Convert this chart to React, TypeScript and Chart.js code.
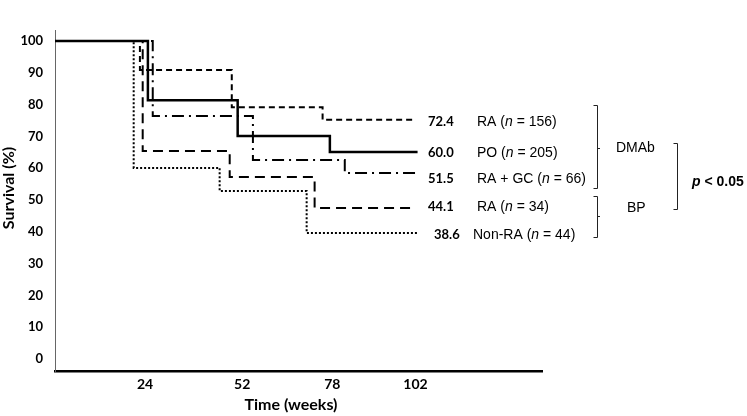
import React, { useEffect, useRef } from "react";
import { Chart, registerables } from "chart.js";

Chart.register(...registerables);

// ---- data ----
const xTickWeeks = [24, 52, 78, 102];
const yTickValues = [0, 10, 20, 30, 40, 50, 60, 70, 80, 90, 100];

const raDmabWeeks = [-2, 22.5, 49.0, 75.2, 101.8];
const raDmabSurv = [100, 90.9, 79.2, 75.2, 75.2];

const poWeeks = [-2, 24.8, 50.7, 77.3, 102.6];
const poSurv = [100, 81.4, 70.1, 65.1, 65.1];

const raGcWeeks = [-2, 26.2, 55.1, 81.6, 102.6];
const raGcSurv = [100, 76.4, 62.6, 58.5, 58.5];

const raBpWeeks = [-2, 23.3, 48.4, 72.9, 101.0];
const raBpSurv = [100, 65.4, 57.2, 47.5, 47.5];

const nonRaWeeks = [-2, 20.7, 45.5, 70.6, 102.6];
const nonRaSurv = [100, 60.1, 52.8, 39.6, 39.6];

const endValueLabels = ["72.4", "60.0", "51.5", "44.1", "38.6"];
const groupNames = ["RA", "PO", "RA + GC", "RA", "Non-RA"];
const groupN = ["156", "205", "66", "34", "44"];
const bracketNames = ["DMAb", "BP"];
const pText = "< 0.05";

const toPoints = (xs: number[], ys: number[]) => xs.map((x, i) => ({ x, y: ys[i] }));

const annotationPlugin = {
  id: "annot",
  afterDraw(chart: any) {
    const ctx = chart.ctx as CanvasRenderingContext2D;
    ctx.save();
    ctx.fillStyle = "#000";
    ctx.textBaseline = "middle";

    // axis titles
    ctx.font = 'bold 16px Lato';
    ctx.textAlign = "center";
    ctx.fillText("Time (weeks)", 291, 405);
    ctx.save();
    ctx.translate(9, 188);
    ctx.rotate(-Math.PI / 2);
    ctx.fillText("Survival (%)", 0, 0);
    ctx.restore();

    // end values
    ctx.textAlign = "left";
    ctx.font = 'bold 13px Lato';
    const numX = [428, 428, 428, 428, 434];
    const rowY = [122, 153, 179, 207, 235];
    endValueLabels.forEach((t, i) => ctx.fillText(t, numX[i], rowY[i]));

    // group names with italic n
    const nameX = [477, 477, 477, 477, 473];
    const reg = '14px "Liberation Sans"';
    const ital = 'italic 14px "Liberation Sans"';
    groupNames.forEach((name, i) => {
      const parts: [string, string][] = [
        [name + " (", reg],
        ["n", ital],
        [" = " + groupN[i] + ")", reg],
      ];
      let cx = nameX[i];
      for (const [t, f] of parts) {
        ctx.font = f;
        ctx.fillText(t, cx, rowY[i]);
        cx += ctx.measureText(t).width;
      }
    });

    // brackets
    ctx.strokeStyle = "#222";
    ctx.lineWidth = 1;
    const bracket = (x: number, y1: number, y2: number, nubY: number | null) => {
      ctx.beginPath();
      ctx.moveTo(x - 3.5, y1 + 0.5);
      ctx.lineTo(x + 0.5, y1 + 0.5);
      ctx.lineTo(x + 0.5, y2 + 0.5);
      ctx.lineTo(x - 3.5, y2 + 0.5);
      if (nubY !== null) {
        ctx.moveTo(x + 0.5, nubY + 0.5);
        ctx.lineTo(x + 3, nubY + 0.5);
      }
      ctx.stroke();
    };
    bracket(597, 105, 188, 148);
    bracket(597, 196, 237, 216);
    bracket(677, 143, 209, null);

    ctx.font = reg;
    ctx.fillText(bracketNames[0], 616, 148);
    ctx.fillText(bracketNames[1], 627, 208);

    ctx.font = 'bold italic 14px "Liberation Sans"';
    ctx.fillText("p", 692, 182);
    const pw = ctx.measureText("p ").width;
    ctx.font = 'bold 14px "Liberation Sans"';
    ctx.fillText(pText, 692 + pw, 182);

    ctx.restore();
  },
};

export default function App() {
  const canvasRef = useRef<HTMLCanvasElement | null>(null);

  useEffect(() => {
    if (!canvasRef.current) return;
    const common = {
      borderColor: "#000",
      borderWidth: 2,
      pointRadius: 0,
      stepped: "before" as const,
      fill: false,
      borderCapStyle: "butt" as const,
    };
    const chart = new Chart(canvasRef.current, {
      type: "line",
      data: {
        datasets: [
          { ...common, label: "RA DMAb", data: toPoints(raDmabWeeks, raDmabSurv), borderDash: [6, 4] },
          { ...common, label: "PO", data: toPoints(poWeeks, poSurv), borderWidth: 2.5 },
          { ...common, label: "RA + GC", data: toPoints(raGcWeeks, raGcSurv), borderDash: [12, 5, 2, 5] },
          { ...common, label: "RA BP", data: toPoints(raBpWeeks, raBpSurv), borderDash: [10, 6] },
          { ...common, label: "Non-RA", data: toPoints(nonRaWeeks, nonRaSurv), borderDash: [2, 2] },
        ],
      },
      options: {
        animation: false,
        responsive: false,
        maintainAspectRatio: false,
        layout: { padding: { left: 0, top: 30, right: 205, bottom: 0 } },
        plugins: { legend: { display: false }, tooltip: { enabled: false } },
        scales: {
          x: {
            type: "linear",
            min: -2,
            max: 138.5,
            grid: { display: false, drawTicks: false },
            border: { display: true, color: "#000", width: 2.5 },
            afterBuildTicks: (scale: any) => {
              scale.ticks = xTickWeeks.map((v) => ({ value: v }));
            },
            afterFit: (scale: any) => {
              scale.height = 45;
            },
            ticks: {
              autoSkip: false,
              maxRotation: 0,
              padding: 5,
              color: "#000",
              font: { family: "Lato", size: 14, weight: "bold" },
            },
          },
          y: {
            type: "linear",
            min: -3.77,
            max: 103.46,
            grid: { display: false, drawTicks: false },
            border: { display: true, color: "#666", width: 1 },
            afterBuildTicks: (scale: any) => {
              scale.ticks = yTickValues.map((v) => ({ value: v }));
            },
            afterFit: (scale: any) => {
              scale.width = 55;
            },
            ticks: {
              autoSkip: false,
              padding: 12,
              color: "#000",
              font: { family: "Lato", size: 13, weight: "bold" },
            },
          },
        },
      },
      plugins: [annotationPlugin],
    });
    return () => chart.destroy();
  }, []);

  return (
    <div style={{ position: "fixed", left: 0, top: 0, width: 747, height: 416, background: "#fff" }}>
      <canvas ref={canvasRef} width={747} height={416} style={{ width: 747, height: 416 }} />
    </div>
  );
}
